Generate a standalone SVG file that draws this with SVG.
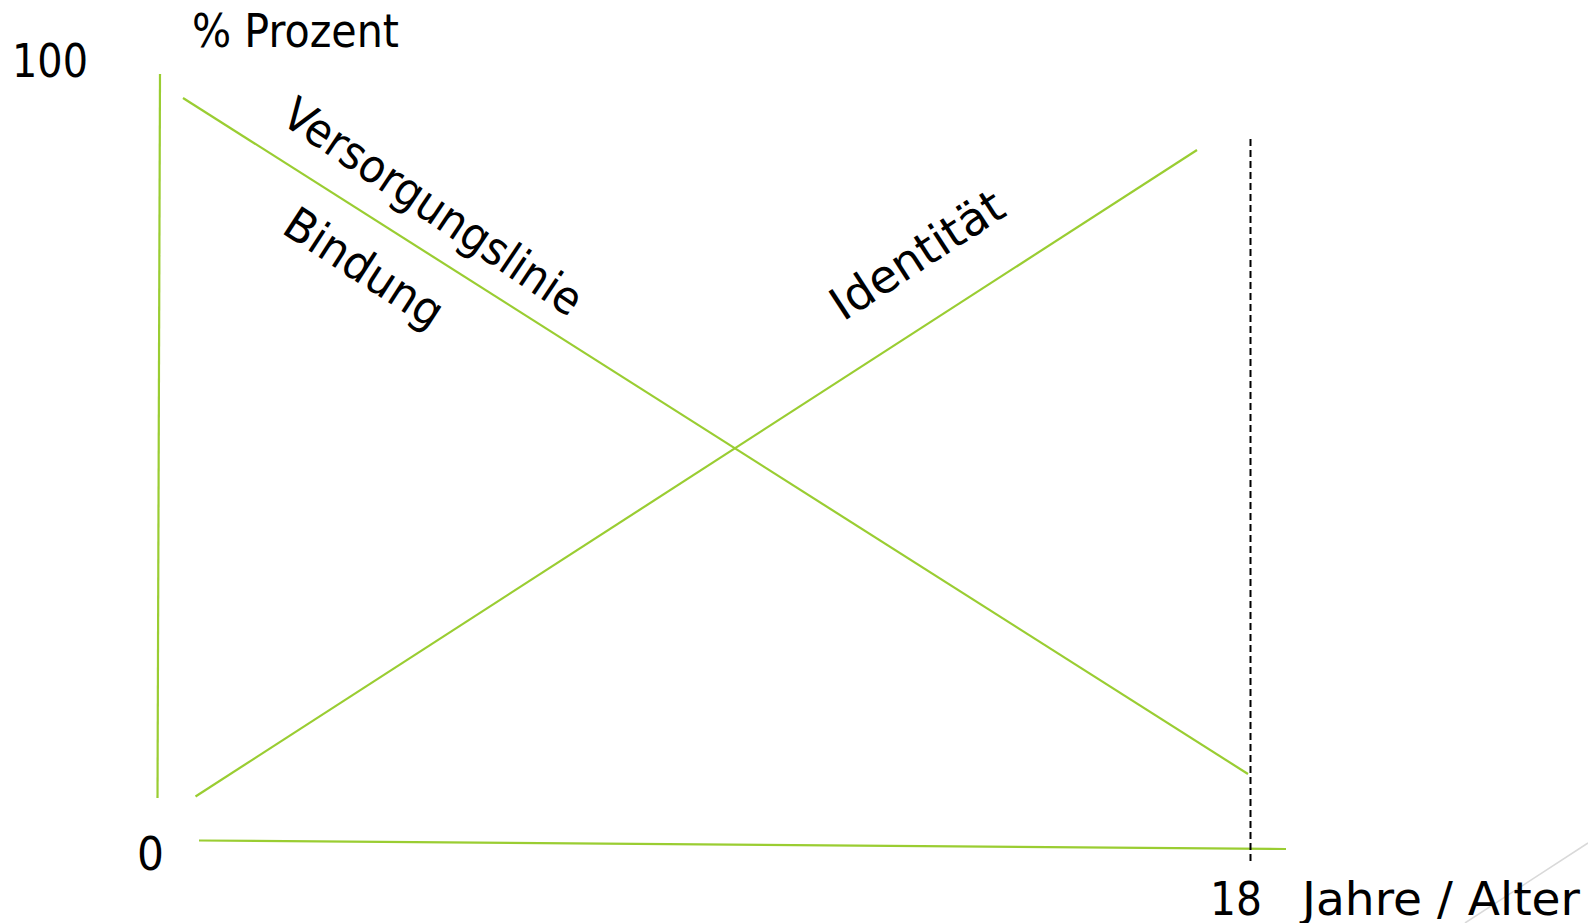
<svg xmlns="http://www.w3.org/2000/svg" width="1588" height="923" viewBox="0 0 1588 923">
<style>
.g{stroke:#9ACD32;stroke-width:2.2;fill:none;stroke-linecap:butt}
.t{font-family:"DejaVu Sans","Liberation Sans",sans-serif;font-size:46px;fill:#000}
</style>
<rect width="1588" height="923" fill="#fff"/>
<line x1="1465" y1="923" x2="1588" y2="843" stroke="#d9d9d9" stroke-width="1.5"/>
<g id="connectors">
<line id="y-axis" class="g" x1="160" y1="74" x2="157.5" y2="798"/>
<line id="x-axis" class="g" x1="199" y1="840.5" x2="1286" y2="849"/>
<line id="versorgung" class="g" x1="183" y1="98" x2="1248" y2="774"/>
<line id="identitaet" class="g" x1="195.5" y1="796.5" x2="1197" y2="150"/>
<line id="age18" x1="1250.5" y1="139" x2="1250.5" y2="861" stroke="#000" stroke-width="2" stroke-dasharray="7,4"/>
</g>
<g id="label-100"><text class="t" x="12" y="77" textLength="76" lengthAdjust="spacingAndGlyphs">100</text></g>
<g id="label-prozent"><text class="t" x="192" y="47" textLength="207" lengthAdjust="spacingAndGlyphs">% Prozent</text></g>
<g id="label-0"><text class="t" x="137" y="870" textLength="27" lengthAdjust="spacingAndGlyphs">0</text></g>
<g id="label-18"><text class="t" x="1210" y="915" textLength="52" lengthAdjust="spacingAndGlyphs">18</text></g>
<g id="label-jahre"><text class="t" x="1302" y="915" textLength="278" lengthAdjust="spacingAndGlyphs">Jahre / Alter</text></g>
<g id="label-versorgung"><text class="t" transform="translate(279,122) rotate(34)" textLength="350" lengthAdjust="spacingAndGlyphs">Versorgungslinie</text></g>
<g id="label-bindung"><text class="t" transform="translate(280,232) rotate(33)" textLength="180" lengthAdjust="spacingAndGlyphs">Bindung</text></g>
<g id="label-identitaet"><text class="t" transform="translate(843,322) rotate(-33)" textLength="197" lengthAdjust="spacingAndGlyphs">Identität</text></g>
</svg>
